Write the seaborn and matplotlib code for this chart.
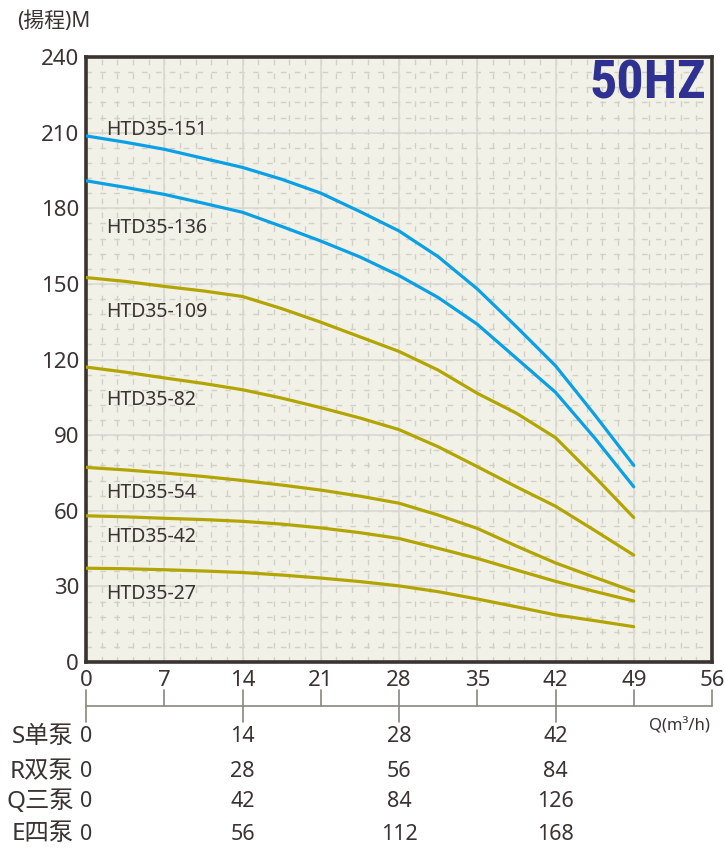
import numpy as np
import pandas as pd
import seaborn as sns
import matplotlib.pyplot as plt
from matplotlib import font_manager

# Vazão (m3/h) e alturas
q = [0, 3.5, 7, 10.5, 14, 17.5, 21, 24.5, 28, 31.5, 35, 38.5, 42, 45.5, 49]
h_151 = [208.7, 206.2, 203.4, 199.8, 196.2, 191.5, 186, 178.7, 171, 160.8, 148, 133, 117.5, 98.1, 78]
h_136 = [190.9, 188.3, 185.5, 182, 178.4, 172.8, 167, 160.7, 153.3, 144.6, 134, 120.5, 107, 88.9, 69.5]
h_109 = [152.5, 151, 149, 147.2, 145, 140.2, 134.8, 129, 123.2, 115.8, 106.6, 98.7, 89, 73.5, 57.3]
h_82 = [117, 115, 112.7, 110.5, 108, 104.7, 100.9, 96.8, 92.2, 85.4, 77.5, 69.5, 61.8, 52.2, 42.4]
h_54 = [77.2, 76.2, 75, 73.6, 72, 70.2, 68.2, 65.8, 63, 58.3, 53, 46, 39.3, 33.6, 28]
h_42 = [58, 57.6, 57, 56.5, 55.8, 54.7, 53.2, 51.3, 49, 45.1, 41.1, 36.5, 32, 28, 24.2]
h_27 = [37.2, 37, 36.6, 36.1, 35.5, 34.5, 33.3, 31.9, 30.2, 27.9, 25, 21.9, 18.7, 16.4, 14]

modelos = ["HTD35-151", "HTD35-136", "HTD35-109", "HTD35-82", "HTD35-54", "HTD35-42", "HTD35-27"]
alturas = [h_151, h_136, h_109, h_82, h_54, h_42, h_27]
rotulo_y = [211, 172, 139, 104, 67, 49.6, 27]

x_ticks = [0, 7, 14, 21, 28, 35, 42, 49, 56]
y_ticks = [0, 30, 60, 90, 120, 150, 180, 210, 240]
bombas = ["S单泵", "R双泵", "Q三泵", "E四泵"]
mult = [1, 2, 3, 4]
q_ref = [0, 14, 28, 42]

azul = "#0AA0E6"
oliva = "#B3A500"
cores = {m: (azul if i < 2 else oliva) for i, m in enumerate(modelos)}

df = pd.DataFrame({
    "Q": q * len(modelos),
    "H": sum(alturas, []),
    "modelo": [m for m in modelos for _ in q],
})

sns.set_style("white")
plt.rcParams['font.family'] = ['Noto Sans', 'Noto Sans CJK SC', 'DejaVu Sans']
texto = "#3a3331"

# fonte estreita para o "50HZ", se houver
fontes = font_manager.fontManager.ttflist
nomes = {f.name for f in fontes}
estreita = None
for nome in ["Liberation Sans Narrow", "Roboto Condensed", "Open Sans Condensed", "DejaVu Sans Condensed"]:
    if nome in nomes:
        estreita = dict(family=nome, fontsize=39)
        break
if estreita is None:
    if any(f.name == "DejaVu Sans" and "condensed" in str(f.stretch) for f in fontes):
        estreita = dict(family="DejaVu Sans", fontstretch="condensed", fontsize=35)
    else:
        estreita = dict(family="DejaVu Sans", fontsize=27)

fig = plt.figure(figsize=(7.25, 8.51), dpi=100)
ax = fig.add_axes([86 / 725, 189 / 851, 626 / 725, 605 / 851])
ax.set_facecolor("#F2F1E7")

# grade menor tracejada e maior contínua
for xv in np.arange(0, 56.01, 1.4):
    ax.axvline(xv, color="#d0d0c8", lw=1, ls=(0, (4, 6)), zorder=0)
for yv in np.arange(0, 240.01, 6):
    ax.axhline(yv, color="#d0d0c8", lw=1, ls=(0, (4, 6)), zorder=0)
for xv in x_ticks:
    ax.axvline(xv, color="#d9d9d2", lw=1.2, zorder=0.5)
for yv in y_ticks:
    ax.axhline(yv, color="#d9d9d2", lw=1.2, zorder=0.5)

sns.lineplot(data=df, x="Q", y="H", hue="modelo", palette=cores, lw=2.3,
             legend=False, estimator=None, sort=False, ax=ax, zorder=3)

for m, yl in zip(modelos, rotulo_y):
    ax.text(1.8, yl, m, fontsize=14, color=texto, va="center", ha="left", zorder=4)

ax.set_xlim(0, 56)
ax.set_ylim(0, 240)
ax.set_xticks(x_ticks)
ax.set_yticks(y_ticks)
ax.tick_params(length=0, labelsize=16, colors=texto)
ax.tick_params(axis="x", pad=6)
ax.tick_params(axis="y", pad=5)
ax.set_xlabel("")
ax.set_ylabel("")
for s in ax.spines.values():
    s.set_linewidth(2.6)
    s.set_color("#3a3331")

# eixo secundário inferior
tr = ax.get_xaxis_transform()
ax.plot([0, 56], [-0.0727, -0.0727], color="#8a8580", lw=1.2, transform=tr, clip_on=False)
for xv in x_ticks:
    y0 = -0.0992 if xv in q_ref else -0.0727
    ax.plot([xv, xv], [-0.0463, y0], color="#8a8580", lw=1.2, transform=tr, clip_on=False)
ax.text(55.8, -0.107, "Q(m³/h)", fontsize=12, color=texto, ha="right", va="center",
        transform=tr)

linhas_y = [-0.1235, -0.1813, -0.2314, -0.2843]
for b, k, yy in zip(bombas, mult, linhas_y):
    ax.text(-1.1, yy, b, fontsize=17.5, color=texto, ha="right", va="center", transform=tr)
    for qr in q_ref:
        ax.text(qr, yy, str(qr * k), fontsize=15.5, color=texto, ha="center", va="center",
                transform=tr)

fig.text(17 / 725, 1 - 21 / 851, "(揚程)M", fontsize=15, color=texto, ha="left", va="center")
fig.text(648 / 725, 1 - 84 / 851, "50HZ", color="#2E3192", ha="center", va="center",
         weight="bold", **estreita)

fig.savefig("out.png", dpi=100)
